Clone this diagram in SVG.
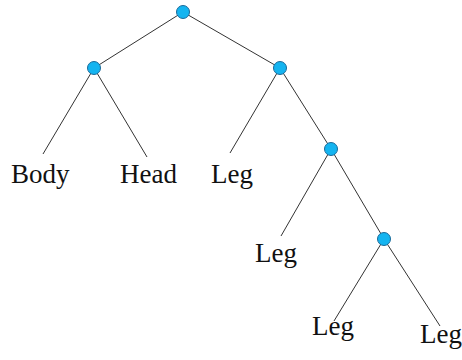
<svg xmlns="http://www.w3.org/2000/svg" width="462" height="360" viewBox="0 0 462 360">
<style>
.e{stroke:#333;stroke-width:1;fill:none}
.n{fill:#14b4f0;stroke:#1a6a9a;stroke-width:1}
.t{font-family:"Liberation Serif","Times New Roman",serif;font-size:27px;fill:#111}
</style>
<rect width="462" height="360" fill="#fff"/>
<g id="connectors">
<line class="e" x1="183" y1="12" x2="94" y2="68"/>
<line class="e" x1="183" y1="12" x2="280" y2="68"/>
<line class="e" x1="94" y1="68" x2="43" y2="154"/>
<line class="e" x1="94" y1="68" x2="147" y2="157"/>
<line class="e" x1="280" y1="68" x2="230" y2="153"/>
<line class="e" x1="280" y1="68" x2="331" y2="149"/>
<line class="e" x1="331" y1="149" x2="281" y2="236"/>
<line class="e" x1="331" y1="149" x2="384" y2="239"/>
<line class="e" x1="384" y1="239" x2="334" y2="321"/>
<line class="e" x1="384" y1="239" x2="440" y2="326"/>
</g>
<g id="n0"><circle class="n" cx="183" cy="12" r="6.5"/></g>
<g id="n1"><circle class="n" cx="94" cy="68" r="6.5"/></g>
<g id="n2"><circle class="n" cx="280" cy="68" r="6.5"/></g>
<g id="n3"><circle class="n" cx="331" cy="149" r="6.5"/></g>
<g id="n4"><circle class="n" cx="384" cy="239" r="6.5"/></g>
<g id="body"><text class="t" x="11" y="183">Body</text></g>
<g id="head"><text class="t" x="120" y="183">Head</text></g>
<g id="leg1"><text class="t" x="211" y="183">Leg</text></g>
<g id="leg2"><text class="t" x="255" y="262">Leg</text></g>
<g id="leg3"><text class="t" x="312" y="335">Leg</text></g>
<g id="leg4"><text class="t" x="420" y="343">Leg</text></g>
</svg>
